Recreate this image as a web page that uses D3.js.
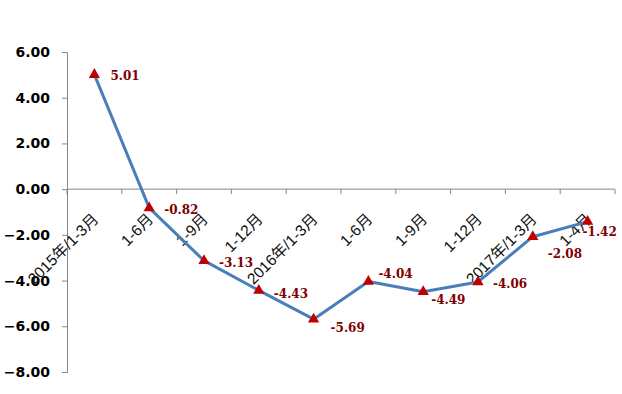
<!DOCTYPE html>
<html>
<head>
<meta charset="utf-8">
<script src="https://cdn.jsdelivr.net/npm/d3@7"></script>
<style>
    html, body { margin: 0; padding: 0; background: #fff; }
</style>
</head>
<body>
<div id="chart"></div>
<script>
// 数据
var categories = ['2015年/1-3月', '1-6月', '1-9月', '1-12月', '2016年/1-3月', '1-6月', '1-9月', '1-12月', '2017年/1-3月', '1-4月'];
var values = [5.01, -0.82, -3.13, -4.43, -5.69, -4.04, -4.49, -4.06, -2.08, -1.42];
var yTicks = [6, 4, 2, 0, -2, -4, -6, -8];
// data label offsets from each point (px)
var labelDx = [16, 15, 15, 15, 17, 10, 8, 15, 15, -5];
var labelDy = [5, 6, 6.5, 7.5, 12.5, -3, 12.5, 6.5, 21, 14];

(function () {
    var width = 622, height = 394;
    var left = 67, right = 615, top = 52, bottom = 372;

    var svg = d3.select('#chart').append('svg')
        .attr('width', width)
        .attr('height', height);

    var y = d3.scaleLinear().domain([-8, 6]).range([bottom, top]);
    var x = d3.scaleBand().domain(d3.range(categories.length)).range([left, right]);
    var cx = function (i) { return x(i) + x.bandwidth() / 2; };

    // y axis
    var yAxis = svg.append('g')
        .attr('transform', 'translate(' + left + ',0)')
        .call(d3.axisLeft(y).tickValues(yTicks).tickSize(5).tickPadding(12).tickFormat(d3.format('.2f')));
    yAxis.select('.domain').attr('stroke', '#868686');
    yAxis.selectAll('.tick line').attr('stroke', '#868686');
    yAxis.selectAll('.tick text')
        .attr('font-family', '"DejaVu Sans", sans-serif')
        .attr('font-weight', 'bold')
        .attr('font-size', 14)
        .attr('fill', '#000');

    // x axis at zero
    var y0 = y(0);
    svg.append('line')
        .attr('x1', left).attr('x2', right)
        .attr('y1', y0).attr('y2', y0)
        .attr('stroke', '#868686');
    svg.selectAll('.xtick')
        .data(d3.range(categories.length + 1))
        .enter().append('line')
        .attr('x1', function (i) { return i < categories.length ? x(i) : right; })
        .attr('x2', function (i) { return i < categories.length ? x(i) : right; })
        .attr('y1', y0).attr('y2', y0 + 5)
        .attr('stroke', '#868686');

    svg.selectAll('.xlabel')
        .data(categories)
        .enter().append('text')
        .attr('transform', function (d, i) { return 'translate(' + (cx(i) + 5) + ',' + (y0 + 31) + ') rotate(-45)'; })
        .attr('text-anchor', 'end')
        .attr('font-family', '"Liberation Sans", "Noto Sans CJK SC", sans-serif')
        .attr('font-size', 15.5)
        .attr('fill', '#111')
        .text(function (d) { return d; });

    // line
    var line = d3.line()
        .x(function (d, i) { return cx(i); })
        .y(function (d) { return y(d); });
    svg.append('path')
        .datum(values)
        .attr('d', line)
        .attr('fill', 'none')
        .attr('stroke', '#4a7ebb')
        .attr('stroke-width', 3)
        .attr('stroke-linejoin', 'round');

    // markers
    var tri = d3.symbol().type(d3.symbolTriangle).size(55);
    svg.selectAll('.marker')
        .data(values)
        .enter().append('path')
        .attr('d', tri)
        .attr('transform', function (d, i) { return 'translate(' + cx(i) + ',' + y(d) + ')'; })
        .attr('fill', '#c00000');

    // data labels
    svg.selectAll('.dlabel')
        .data(values)
        .enter().append('text')
        .attr('x', function (d, i) { return cx(i) + labelDx[i]; })
        .attr('y', function (d, i) { return y(d) + labelDy[i]; })
        .attr('font-family', '"DejaVu Serif", serif')
        .attr('font-weight', 'bold')
        .attr('font-size', 12)
        .attr('fill', '#7f0000')
        .text(function (d) { return d.toFixed(2); });
})();
</script>
</body>
</html>
